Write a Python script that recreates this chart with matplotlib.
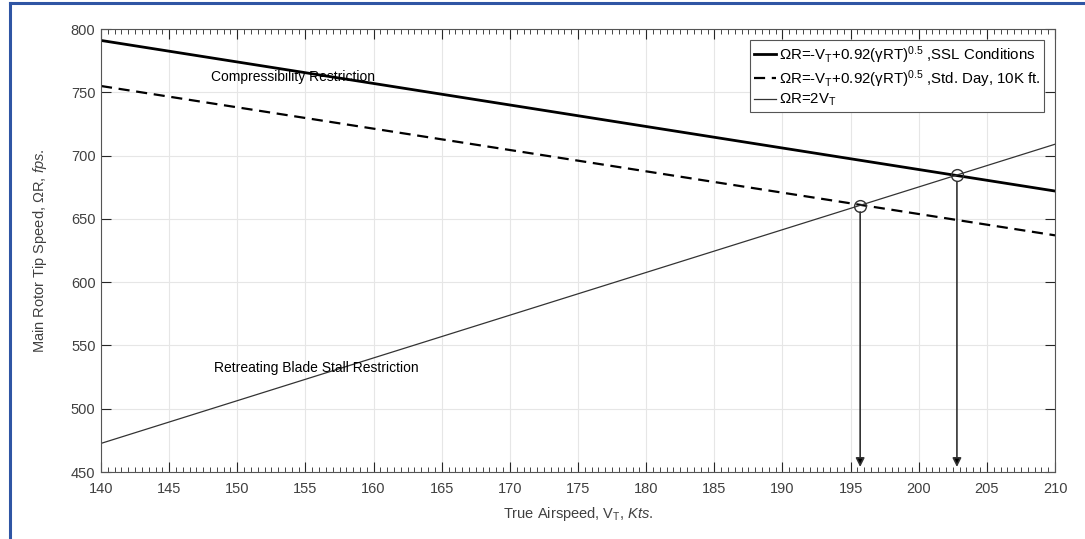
import numpy as np
import matplotlib.pyplot as plt
from matplotlib.ticker import MultipleLocator
from matplotlib.lines import Line2D

plt.rcParams['font.family'] = ['Liberation Sans', 'DejaVu Sans']
plt.rcParams['mathtext.fontset'] = 'custom'
plt.rcParams['mathtext.rm'] = 'Liberation Sans'
plt.rcParams['mathtext.it'] = 'Liberation Sans:italic'

# data (straight lines, end points)
v_ends = [140, 210]
ssl_ends = [791, 672]
day10k_ends = [755, 637]
two_vt_ends = [472.6, 709]
# intersections (V_T, omega R)
cross_v = [195.7, 202.8]
cross_r = [660.5, 684.5]
arrow_bottom = 454

dark = '#262626'
fig = plt.figure(figsize=(10.85, 5.39), dpi=100)
ax = fig.add_axes([0.0931, 0.1243, 0.8793, 0.8218])

ax.plot(v_ends, ssl_ends, color='black', lw=2.0,
        label='ΩR=-V$_\\mathregular{T}$+0.92(γRT)$^{\\mathregular{0.5}}$ ,SSL Conditions')
ax.plot(v_ends, day10k_ends, color='black', lw=1.6, ls=(0, (5, 3)),
        label='ΩR=-V$_\\mathregular{T}$+0.92(γRT)$^{\\mathregular{0.5}}$ ,Std. Day, 10K ft.')
ax.plot(v_ends, two_vt_ends, color='#333333', lw=0.9,
        label='ΩR=2V$_\\mathregular{T}$')
ax.plot(cross_v, cross_r, 'o', ms=8.5, mfc='none', mec='#333333', mew=1.0)

for xv, yv in zip(cross_v, cross_r):
    ax.annotate('', xy=(xv, arrow_bottom), xytext=(xv, yv - 5),
                arrowprops=dict(arrowstyle='-|>', color='#777777', lw=1.2,
                                mutation_scale=13, fc='black', ec='#333333',
                                shrinkA=0, shrinkB=0))

ax.text(154.1, 762, 'Compressibility Restriction', ha='center', va='center',
        fontsize=10, color='black')
ax.text(155.8, 532, 'Retreating Blade Stall Restriction', ha='center', va='center',
        fontsize=10, color='black')

ax.set_xlim(140, 210)
ax.set_ylim(450, 800)
ax.xaxis.set_major_locator(MultipleLocator(5))
ax.xaxis.set_minor_locator(MultipleLocator(0.5))
ax.yaxis.set_major_locator(MultipleLocator(50))
ax.tick_params(which='both', direction='in', top=True, right=True, colors=dark,
               labelcolor='#404040', labelsize=10.5)
ax.tick_params(which='major', length=7)
ax.tick_params(which='minor', length=3.5)
ax.tick_params(axis='x', which='major', pad=7.5)
ax.tick_params(axis='y', which='major', pad=4)
ax.grid(True, which='major', color='#e6e6e6', lw=0.8)
ax.set_axisbelow(True)
for s in ax.spines.values():
    s.set_color('#555555')
    s.set_linewidth(0.8)

ax.set_xlabel('True Airspeed, V$_\\mathregular{T}$, $\\mathit{Kts.}$', fontsize=10.5,
              color='#404040', labelpad=6)
ax.set_ylabel('Main Rotor Tip Speed, ΩR, $\\mathit{fps.}$', fontsize=10.5,
              color='#404040', labelpad=16)

leg = ax.legend(loc='upper right', fontsize=10.8, frameon=True, fancybox=False,
                edgecolor='#555555', framealpha=1, handlelength=1.5,
                handletextpad=0.15, borderpad=0.25, labelspacing=0.15,
                borderaxespad=0.75)
leg.get_frame().set_linewidth(0.8)

# blue frame around the figure (top and left edges visible)
fig.add_artist(Line2D([0.0088, 0.0088], [0, 0.995], transform=fig.transFigure,
                      color='#2f55a4', lw=2.2))
fig.add_artist(Line2D([0.0088, 1.0], [0.995, 0.995], transform=fig.transFigure,
                      color='#2f55a4', lw=2.2))

fig.savefig('out.png', dpi=100)
